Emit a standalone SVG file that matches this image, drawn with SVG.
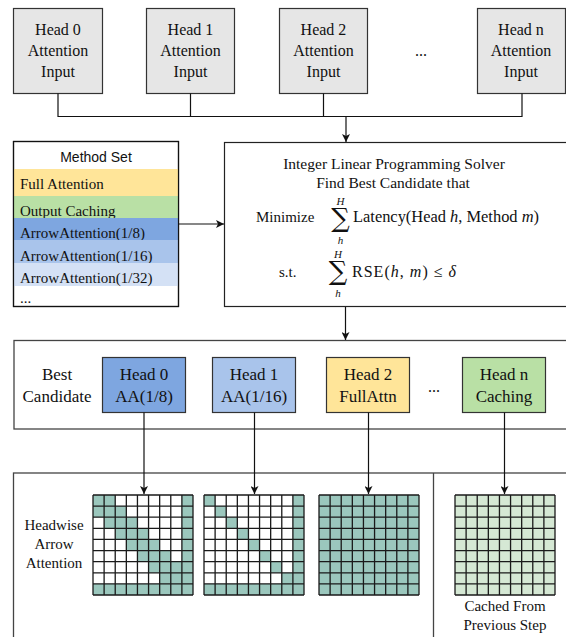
<svg xmlns="http://www.w3.org/2000/svg" width="566" height="637" viewBox="0 0 566 637">
<style>
.t{font-family:"Liberation Serif","Times New Roman",serif;fill:#111}
.s{font-family:"Liberation Sans",Arial,sans-serif;fill:#111}
.inbox{fill:#e6e6e6;stroke:#333;stroke-width:1.2}
.cand{stroke:#333;stroke-width:1.2}
.f16{font-size:16px}
.f17{font-size:17px}
.f15{font-size:15px}
.mid{text-anchor:middle}
.ln{fill:none;stroke:#111;stroke-width:1.2}
.cont{fill:none;stroke:#444;stroke-width:1.3}
.teal{fill:#9bc7bd}
.lg{fill:#d5e8d4}
.sum{font-family:"DejaVu Serif",serif;font-size:26px;fill:#111;text-anchor:middle}
.lim{font-family:"Liberation Serif",serif;font-size:11px;font-style:italic;fill:#111;text-anchor:middle}
</style>
<defs>
<marker id="ah" viewBox="0 0 10 10" refX="10" refY="5" markerWidth="8" markerHeight="8" markerUnits="userSpaceOnUse" orient="auto">
<path d="M0 0L10 5L0 10L2.5 5Z" fill="#111"/>
</marker>
<g id="gl"><path d="M0 0V100M11.11 0V100M22.22 0V100M33.33 0V100M44.44 0V100M55.56 0V100M66.67 0V100M77.78 0V100M88.89 0V100M100 0V100M0 0H100M0 11.11H100M0 22.22H100M0 33.33H100M0 44.44H100M0 55.56H100M0 66.67H100M0 77.78H100M0 88.89H100M0 100H100" fill="none" stroke="#1a1a1a" stroke-width="1.3"/></g>
</defs>
<rect width="566" height="637" fill="#fff"/>

<!-- top input nodes -->
<g id="in0"><rect class="inbox" x="13.5" y="8.5" width="89" height="85"/>
<text class="t f16 mid" x="58" y="35">Head 0</text><text class="t f16 mid" x="58" y="56">Attention</text><text class="t f16 mid" x="58" y="77">Input</text></g>
<g id="in1"><rect class="inbox" x="146.5" y="8.5" width="88" height="85"/>
<text class="t f16 mid" x="190.5" y="35">Head 1</text><text class="t f16 mid" x="190.5" y="56">Attention</text><text class="t f16 mid" x="190.5" y="77">Input</text></g>
<g id="in2"><rect class="inbox" x="279.5" y="8.5" width="88" height="85"/>
<text class="t f16 mid" x="323.5" y="35">Head 2</text><text class="t f16 mid" x="323.5" y="56">Attention</text><text class="t f16 mid" x="323.5" y="77">Input</text></g>
<g id="indots"><text class="t f16 mid" x="421" y="56">...</text></g>
<g id="inn"><rect class="inbox" x="477.5" y="8.5" width="88" height="85"/>
<text class="t f16 mid" x="521" y="35">Head n</text><text class="t f16 mid" x="521" y="56">Attention</text><text class="t f16 mid" x="521" y="77">Input</text></g>

<!-- method set -->
<g id="methodset">
<rect x="13.5" y="141.5" width="165" height="165" fill="#fff" stroke="#111" stroke-width="1.2"/>
<text class="s mid" x="96" y="162" font-size="14">Method Set</text>
<rect x="14" y="169" width="164" height="27" fill="#ffe599"/>
<text class="t f15" x="20" y="189">Full Attention</text>
<rect x="14" y="196" width="164" height="22" fill="#b9e0a5"/>
<text class="t f15" x="20" y="216">Output Caching</text>
<rect x="14" y="218" width="164" height="22" fill="#7ea6e0"/>
<text class="t f15" x="20" y="238">ArrowAttention(1/8)</text>
<rect x="14" y="240" width="164" height="23" fill="#a9c4eb"/>
<text class="t f15" x="20" y="261">ArrowAttention(1/16)</text>
<rect x="14" y="263" width="164" height="23" fill="#d4e1f5"/>
<text class="t f15" x="20" y="283">ArrowAttention(1/32)</text>
<text class="t f15" x="20" y="303">...</text>
<rect x="13.5" y="141.5" width="165" height="165" fill="none" stroke="#111" stroke-width="1.2"/>
</g>

<!-- solver -->
<g id="solver">
<rect x="224.5" y="142.5" width="360" height="164" fill="#fff" stroke="#222" stroke-width="1.2"/>
<text class="t mid" font-size="15.5" x="394" y="169">Integer Linear Programming Solver</text>
<text class="t mid" font-size="15.5" x="393" y="188">Find Best Candidate that</text>
<text class="t f15" x="256" y="222">Minimize</text>
<text class="lim" x="340.5" y="205">H</text>
<text class="sum" x="340.5" y="227">∑</text>
<text class="lim" x="340.5" y="244">h</text>
<text class="t" font-size="16" x="353" y="222" textLength="186" lengthAdjust="spacingAndGlyphs">Latency(Head <tspan font-style="italic">h</tspan>, Method <tspan font-style="italic">m</tspan>)</text>
<text class="t f15" x="279" y="277">s.t.</text>
<text class="lim" x="338" y="258">H</text>
<text class="sum" x="338" y="280">∑</text>
<text class="lim" x="338" y="297">h</text>
<text class="t" font-size="16" x="352" y="277" textLength="104" lengthAdjust="spacing">RSE(<tspan font-style="italic">h</tspan>, <tspan font-style="italic">m</tspan>)  ≤  <tspan font-style="italic">δ</tspan></text>
</g>

<!-- best candidate container -->
<g id="bestcand">
<rect class="cont" x="14" y="340.5" width="570" height="88.5"/>
<text class="t f17 mid" x="57" y="380">Best</text>
<text class="t f17 mid" x="57" y="402">Candidate</text>
</g>
<g id="c0"><rect class="cand" x="102.5" y="357.5" width="83" height="55" fill="#7ea6e0"/>
<text class="t f17 mid" x="144" y="380">Head 0</text><text class="t f17 mid" x="144" y="402">AA(1/8)</text></g>
<g id="c1"><rect class="cand" x="212.5" y="357.5" width="83" height="55" fill="#a9c4eb"/>
<text class="t f17 mid" x="254" y="380">Head 1</text><text class="t f17 mid" x="254" y="402">AA(1/16)</text></g>
<g id="c2"><rect class="cand" x="326.5" y="357.5" width="83" height="55" fill="#ffe599"/>
<text class="t f17 mid" x="368" y="380">Head 2</text><text class="t f17 mid" x="368" y="402">FullAttn</text></g>
<g id="cdots"><text class="t f16 mid" x="434" y="392">...</text></g>
<g id="cn"><rect class="cand" x="462.5" y="357.5" width="83" height="55" fill="#b9e0a5"/>
<text class="t f17 mid" x="504" y="380">Head n</text><text class="t f17 mid" x="504" y="402">Caching</text></g>

<!-- bottom container -->
<g id="bottom">
<rect class="cont" x="13.5" y="473" width="580" height="180"/>
<line class="cont" x1="433.5" y1="473" x2="433.5" y2="640"/>
<text class="t f15 mid" x="54" y="530">Headwise</text>
<text class="t f15 mid" x="54" y="549">Arrow</text>
<text class="t f15 mid" x="54" y="568">Attention</text>
<text class="t f15 mid" x="505" y="611">Cached From</text>
<text class="t f15 mid" x="505" y="630">Previous Step</text>
</g>

<g id="grid1" transform="translate(93,495)">
<rect width="100" height="100" fill="#fff"/>
<rect class="teal" x="0" y="0" width="22.22" height="11.11"/>
<rect class="teal" x="0" y="11.11" width="33.33" height="11.11"/>
<rect class="teal" x="11.11" y="22.22" width="33.33" height="11.11"/>
<rect class="teal" x="22.22" y="33.33" width="33.33" height="11.11"/>
<rect class="teal" x="33.33" y="44.44" width="33.33" height="11.11"/>
<rect class="teal" x="44.44" y="55.56" width="33.33" height="11.11"/>
<rect class="teal" x="55.56" y="66.67" width="33.33" height="11.11"/>
<rect class="teal" x="66.67" y="77.78" width="33.33" height="11.11"/>
<rect class="teal" x="88.89" y="0" width="11.11" height="100"/>
<rect class="teal" x="0" y="88.89" width="100" height="11.11"/>
<use href="#gl"/>
</g>
<g id="grid2" transform="translate(204,495)">
<rect width="100" height="100" fill="#fff"/>
<rect class="teal" x="0" y="0" width="11.11" height="11.11"/>
<rect class="teal" x="11.11" y="11.11" width="11.11" height="11.11"/>
<rect class="teal" x="22.22" y="22.22" width="11.11" height="11.11"/>
<rect class="teal" x="33.33" y="33.33" width="11.11" height="11.11"/>
<rect class="teal" x="44.44" y="44.44" width="11.11" height="11.11"/>
<rect class="teal" x="55.56" y="55.56" width="11.11" height="11.11"/>
<rect class="teal" x="66.67" y="66.67" width="11.11" height="11.11"/>
<rect class="teal" x="77.78" y="77.78" width="11.11" height="11.11"/>
<rect class="teal" x="88.89" y="0" width="11.11" height="100"/>
<rect class="teal" x="0" y="88.89" width="100" height="11.11"/>
<use href="#gl"/>
</g>
<g id="grid3" transform="translate(319,495)">
<rect class="teal" width="100" height="100"/>
<use href="#gl"/>
</g>
<g id="grid4" transform="translate(455,495)">
<rect class="lg" width="100" height="100"/>
<use href="#gl"/>
</g>

<!-- connectors -->
<g id="connectors">
<path class="ln" d="M58 93.5V116.5H522V93.5M190.5 93.5V116.5M323.5 93.5V116.5"/>
<path class="ln" d="M346 116.5V142" marker-end="url(#ah)"/>
<path class="ln" d="M179 224H224" marker-end="url(#ah)"/>
<path class="ln" d="M345.5 307V340" marker-end="url(#ah)"/>
<path class="ln" d="M144 412.5V494" marker-end="url(#ah)"/>
<path class="ln" d="M254.5 412.5V494" marker-end="url(#ah)"/>
<path class="ln" d="M368.5 412.5V494" marker-end="url(#ah)"/>
<path class="ln" d="M504.5 412.5V494" marker-end="url(#ah)"/>
</g>
</svg>
